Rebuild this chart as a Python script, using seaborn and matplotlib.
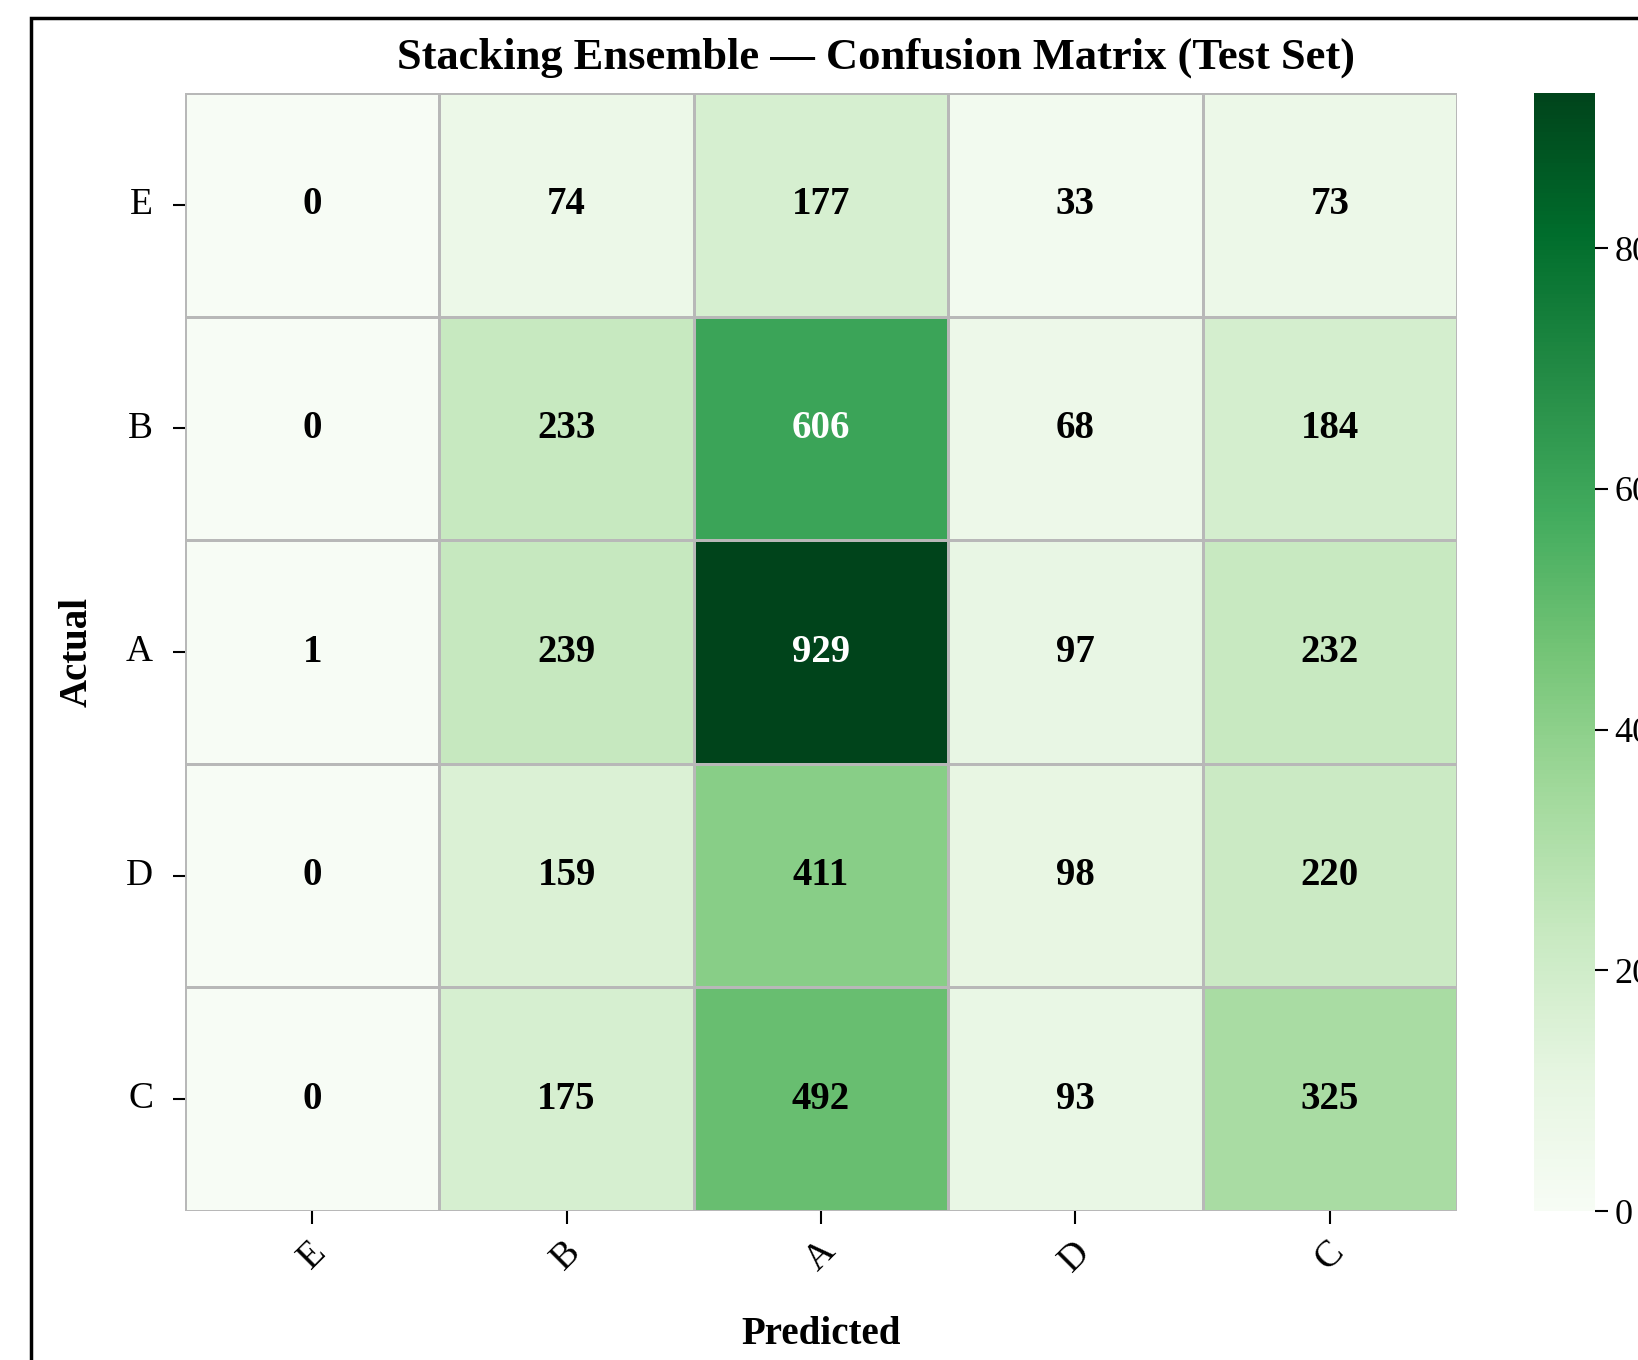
import numpy as np
import pandas as pd
import matplotlib
matplotlib.use("Agg")
import matplotlib.pyplot as plt
from matplotlib.patches import Rectangle
import seaborn as sns

# Class order used for both axes
classes = ["E", "B", "A", "D", "C"]

# Confusion matrix rows (actual class) vs columns (predicted class)
row_E = [0, 74, 177, 33, 73]
row_B = [0, 233, 606, 68, 184]
row_A = [1, 239, 929, 97, 232]
row_D = [0, 159, 411, 98, 220]
row_C = [0, 175, 492, 93, 325]

cbar_ticks = [0, 200, 400, 600, 800]

cm = pd.DataFrame([row_E, row_B, row_A, row_D, row_C], index=classes, columns=classes)

sns.set_theme(style="white")
plt.rcParams["font.family"] = ["Liberation Serif", "DejaVu Serif"]
plt.rcParams.update({
    "text.color": "black",
    "axes.labelcolor": "black",
    "xtick.color": "black",
    "ytick.color": "black",
})

W, H = 1638, 1360
fig = plt.figure(figsize=(W / 100, H / 100), dpi=100)

ax = fig.add_axes([185 / W, 1 - 1211 / H, 1272 / W, 1118 / H])
cax = fig.add_axes([1534 / W, 1 - 1211 / H, 61 / W, 1118 / H])

sns.heatmap(
    cm, ax=ax, cbar_ax=cax, cmap="Greens", annot=True, fmt="d",
    linewidths=1.0, linecolor="#b8b8b8",
    annot_kws={"fontsize": 28, "fontweight": "bold"},
    cbar_kws={"ticks": cbar_ticks},
)

# Dark cells keep white labels, the rest get pure black
for t in ax.texts:
    if t.get_color() not in ("w", "white"):
        t.set_color("black")

ax.tick_params(axis="both", which="both", length=9, width=1.5, color="black",
               labelsize=27, pad=8, bottom=True, left=True)
ax.tick_params(axis="y", pad=14)
ax.set_xticklabels(classes, rotation=45, ha="center")
ax.set_yticklabels(classes, rotation=0)
ax.set_xlabel("Predicted", fontsize=28, fontweight="bold", labelpad=27)
ax.set_ylabel("Actual", fontsize=28, fontweight="bold", labelpad=22)

cax.tick_params(axis="y", length=9, width=1.5, color="black", labelsize=26, pad=5, right=True)

fig.text(876 / W, 1 - 58 / H, "Stacking Ensemble \u2014 Confusion Matrix (Test Set)",
         ha="center", va="center", fontsize=32, fontweight="bold")

# Frame around the whole figure
fig.patches.append(Rectangle((31 / W, -0.2), 1.5, 1.2 - 18 / H, transform=fig.transFigure,
                             fill=False, edgecolor="black", linewidth=2.5))

fig.savefig("out.png", dpi=100, facecolor="white")
